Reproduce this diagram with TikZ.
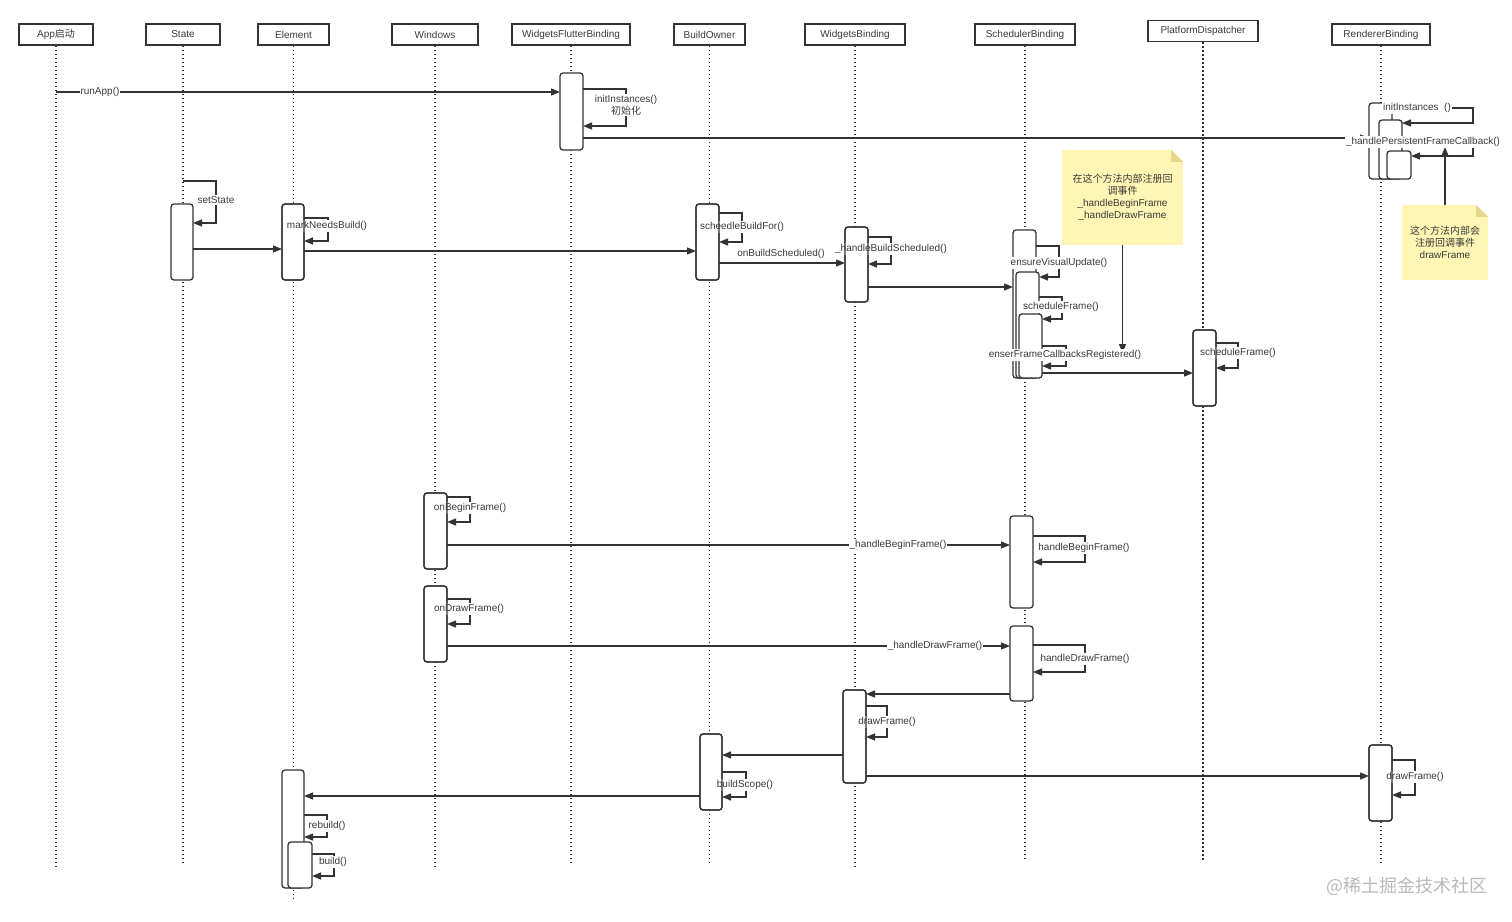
\documentclass[tikz,border=0pt]{standalone}
\usepackage{fontspec}
\setmainfont{Liberation Sans}
\newfontfamily\cjk{Noto Sans CJK SC}
\usetikzlibrary{arrows.meta,fit}
\definecolor{ln}{HTML}{333333}
\definecolor{tx}{HTML}{3A3A3A}
\definecolor{noteY}{HTML}{FFF5B4}
\definecolor{noteF}{HTML}{E6D98C}
\begin{document}
\begin{tikzpicture}[x=1pt,y=-1pt,font=\fontsize{10}{12}\selectfont,
  hdr/.style={draw=ln,line width=1.6pt,minimum height=21pt,inner sep=2pt,text=tx,fill=white},
  life/.style={ln,line width=1.4pt,dash pattern=on 1.4pt off 2.6pt},
  act/.style={draw=ln,fill=white,line width=1.3pt,rounded corners=3pt,inner sep=0pt,outer sep=0pt},
  actline/.style={draw=ln,line width=1.3pt,rounded corners=3pt},
  msg/.style={ln,line width=1.3pt,-{Triangle[length=9pt,width=7pt]}},
  lbl/.style={fill=white,inner sep=1pt,text=tx,align=center},
  note/.style={fill=noteY,inner sep=0pt,align=center,text=tx}]
\useasboundingbox (0,0) rectangle (1512,921);
\fill[white] (0,0) rectangle (1512,921);

% headers
\node[hdr,minimum width=74pt] (hApp) at (56,34.5) {App{\cjk 启动}};
\node[hdr,minimum width=74pt] (hState) at (183,34.5) {State};
\node[hdr,minimum width=71pt] (hEl) at (293.5,34.5) {Element};
\node[hdr,minimum width=86pt] (hWin) at (435,34.5) {Windows};
\node[hdr,minimum width=118pt] (hWfb) at (571,34.5) {WidgetsFlutterBinding};
\node[hdr,minimum width=71pt] (hBo) at (709.5,34.5) {BuildOwner};
\node[hdr,minimum width=100pt] (hWb) at (855,34.5) {WidgetsBinding};
\node[hdr,minimum width=100pt] (hSc) at (1025,34.5) {SchedulerBinding};
\node[hdr,minimum width=110pt] (hPd) at (1203,31) {PlatformDispatcher};
\node[hdr,minimum width=98pt] (hRb) at (1381,34.5) {RendererBinding};

% lifelines
\draw[life] (hApp.south) -- (hApp.south |- 0,868);
\draw[life] (hState.south) -- (hState.south |- 0,864);
\draw[life] (hEl.south) -- (hEl.south |- 0,900);
\draw[life] (hWin.south) -- (hWin.south |- 0,868);
\draw[life] (hWfb.south) -- (hWfb.south |- 0,864);
\draw[life] (hBo.south) -- (hBo.south |- 0,864);
\draw[life] (hWb.south) -- (hWb.south |- 0,868);
\draw[life] (hSc.south) -- (hSc.south |- 0,858);
\draw[life] (hPd.south) -- (hPd.south |- 0,862);
\draw[life] (hRb.south) -- (hRb.south |- 0,865);

% activation boxes
\node[act,fit={(560,73) (583,150)}] (wfb1) {};
\node[act,fit={(1369,103) (1392,179)}] (r1) {};
\node[act,fit={(1379,120) (1402,179)}] (r2) {};
\node[act,fit={(1387,151) (1411,179)}] (r3) {};
\node[act,fit={(171,204) (193,280)}] (st1) {};
\node[act,fit={(282,204) (304,280)}] (el1) {};
\node[act,fit={(696,204) (719,280)}] (bo1) {};
\node[act,fit={(845,227) (868,302)}] (wb1) {};
\node[act,fit={(1013,230) (1036,378)}] (sc1) {};
\node[act,fit={(1016,272) (1039,378)}] (sc2) {};
\node[act,fit={(1019,314) (1042,378)}] (sc3) {};
\node[act,fit={(1193,330) (1216,406)}] (pd1) {};
\node[act,fit={(424,493) (447,569)}] (wn1) {};
\node[act,fit={(424,586) (447,662)}] (wn2) {};
\node[act,fit={(1010,516) (1033,608)}] (sc4) {};
\node[act,fit={(1010,626) (1033,701)}] (sc5) {};
\node[act,fit={(843,690) (866,783)}] (wb2) {};
\node[act,fit={(700,734) (722,810)}] (bo2) {};
\node[act,fit={(1369,745) (1392,821)}] (rd4) {};
\node[act,fit={(282,770) (304,888)}] (el2) {};
\node[act,fit={(288,842) (312,888)}] (el3) {};

% notes
\node[note,minimum width=121pt,minimum height=95pt] (n1) at (1122.5,197.5)
  {{\cjk 在这个方法内部注册回}\\{\cjk 调事件}\\\_handleBeginFrame\\\_handleDrawFrame};
\fill[white] (n1.north east) -- ++(-12,0) -- ++(12,12) -- cycle;
\fill[noteF] (n1.north east) ++(-12,0) -- ++(0,12) -- ++(12,0) -- cycle;
\node[note,minimum width=86pt,minimum height=75pt] (n2) at (1445,242.5)
  {{\cjk 这个方法内部会}\\{\cjk 注册回调事件}\\drawFrame};
\fill[white] (n2.north east) -- ++(-12,0) -- ++(12,12) -- cycle;
\fill[noteF] (n2.north east) ++(-12,0) -- ++(0,12) -- ++(12,0) -- cycle;

% messages
\draw[msg] (hApp.south |- 0,92) -- (wfb1.west |- 0,92);
\draw[msg] (wfb1.east |- 0,89) -| (626,126) -- (wfb1.east |- 0,126);
\draw[msg] (wfb1.east |- 0,138) -- (r1.west |- 0,138);
\draw[msg] (r1.east |- 0,108) -| (1473,123) -- (r2.east |- 0,123);
\draw[msg] (r2.east |- 0,138) -| (1473,156) -- (r3.east |- 0,156);
\draw[msg] (n2.north) -- (n2.north |- 0,147);

\draw[msg] (hState.south |- 0,181) -| (216,223) -- (st1.east |- 0,223);
\draw[msg] (st1.east |- 0,249) -- (el1.west |- 0,249);
\draw[msg] (el1.east |- 0,218) -| (328,241) -- (el1.east |- 0,241);
\draw[msg] (el1.east |- 0,251) -- (bo1.west |- 0,251);
\draw[msg] (bo1.east |- 0,213) -| (742,242) -- (bo1.east |- 0,242);
\draw[msg] (bo1.east |- 0,263) -- (wb1.west |- 0,263);
\draw[msg] (wb1.east |- 0,237) -| (891,264) -- (wb1.east |- 0,264);
\draw[msg] (wb1.east |- 0,287) -- (sc1.west |- 0,287);
\draw[msg] (sc1.east |- 0,246) -| (1059,277) -- (sc2.east |- 0,277);
\draw[msg] (sc2.east |- 0,297) -| (1062,319) -- (sc3.east |- 0,319);
\draw[msg] (sc3.east |- 0,346) -| (1066,366) -- (sc3.east |- 0,366);
\draw[msg] (sc3.east |- 0,373) -- (pd1.west |- 0,373);
\draw[msg] (pd1.east |- 0,343) -| (1238,368) -- (pd1.east |- 0,368);
\draw[msg] (n1.south) -- (n1.south |- 0,353);

\draw[msg] (wn1.east |- 0,497) -| (470,522) -- (wn1.east |- 0,522);
\draw[msg] (wn1.east |- 0,545) -- (sc4.west |- 0,545);
\draw[msg] (wn2.east |- 0,599) -| (470,624) -- (wn2.east |- 0,624);
\draw[msg] (wn2.east |- 0,646) -- (sc5.west |- 0,646);
\draw[msg] (sc4.east |- 0,536) -| (1085,562) -- (sc4.east |- 0,562);
\draw[msg] (sc5.east |- 0,645) -| (1085,672) -- (sc5.east |- 0,672);
\draw[msg] (sc5.west |- 0,694) -- (wb2.east |- 0,694);
\draw[msg] (wb2.east |- 0,706) -| (887,737) -- (wb2.east |- 0,737);
\draw[msg] (wb2.west |- 0,755) -- (bo2.east |- 0,755);
\draw[msg] (wb2.east |- 0,776) -- (rd4.west |- 0,776);
\draw[msg] (bo2.east |- 0,772) -| (746,797) -- (bo2.east |- 0,797);
\draw[msg] (bo2.west |- 0,796) -- (el2.east |- 0,796);
\draw[msg] (rd4.east |- 0,760) -| (1415,795) -- (rd4.east |- 0,795);
\draw[msg] (el2.east |- 0,815) -| (327,837) -- (el2.east |- 0,837);
\draw[msg] (el3.east |- 0,854) -| (334,876) -- (el3.east |- 0,876);

% labels
\node[lbl] (tRun) at (100,92) {runApp()};
\node[lbl] (tInit) at (626,105) {initInstances()\\{\cjk 初始化}};
\node[lbl] (tRInit) at (1417,108) {initInstances\ \ ()};
\node[lbl] (tHpf) at (1423,142) {\_handlePersistentFrameCallback()};
\node[lbl] (tSet) at (216,200) {setState};
\node[lbl] (tMark) at (327,226) {markNeedsBuild()};
\node[lbl] (tSbf) at (742,227) {scheedleBuildFor()};
\node[lbl] (tObs) at (781,254) {onBuildScheduled()};
\node[lbl] (tHbs) at (891,249) {\_handleBuildScheduled()};
\node[lbl] (tEvu) at (1059,263) {ensureVisualUpdate()};
\node[lbl] (tSf1) at (1061,307) {scheduleFrame()};
\node[lbl] (tEfc) at (1065,355) {enserFrameCallbacksRegistered()};
\node[lbl] (tSf2) at (1238,353) {scheduleFrame()};
\node[lbl] (tObf) at (470,508) {onBeginFrame()};
\node[lbl] (tOdf) at (469,609) {onDrawFrame()};
\node[lbl] (tHbf) at (898,545) {\_handleBeginFrame()};
\node[lbl] (tHdf) at (935,646) {\_handleDrawFrame()};
\node[lbl] (tHbf2) at (1084,548) {handleBeginFrame()};
\node[lbl] (tHdf2) at (1085,659) {handleDrawFrame()};
\node[lbl] (tDf1) at (887,722) {drawFrame()};
\node[lbl] (tBs) at (745,785) {buildScope()};
\node[lbl] (tDf2) at (1415,777) {drawFrame()};
\node[lbl] (tRb) at (327,826) {rebuild()};
\node[lbl] (tB) at (333,862) {build()};

% re-stroke box outlines over labels
\foreach \b in {bo1,wb1,el1,pd1,wn1,wn2,wb2,bo2,rd4}
  \draw[actline] (\b.south west) rectangle (\b.north east);

% watermark
\node[text=gray!55,font=\cjk\fontsize{18}{20}\selectfont] (wm) at (1407,886) {@稀土掘金技术社区};
\end{tikzpicture}
\end{document}
